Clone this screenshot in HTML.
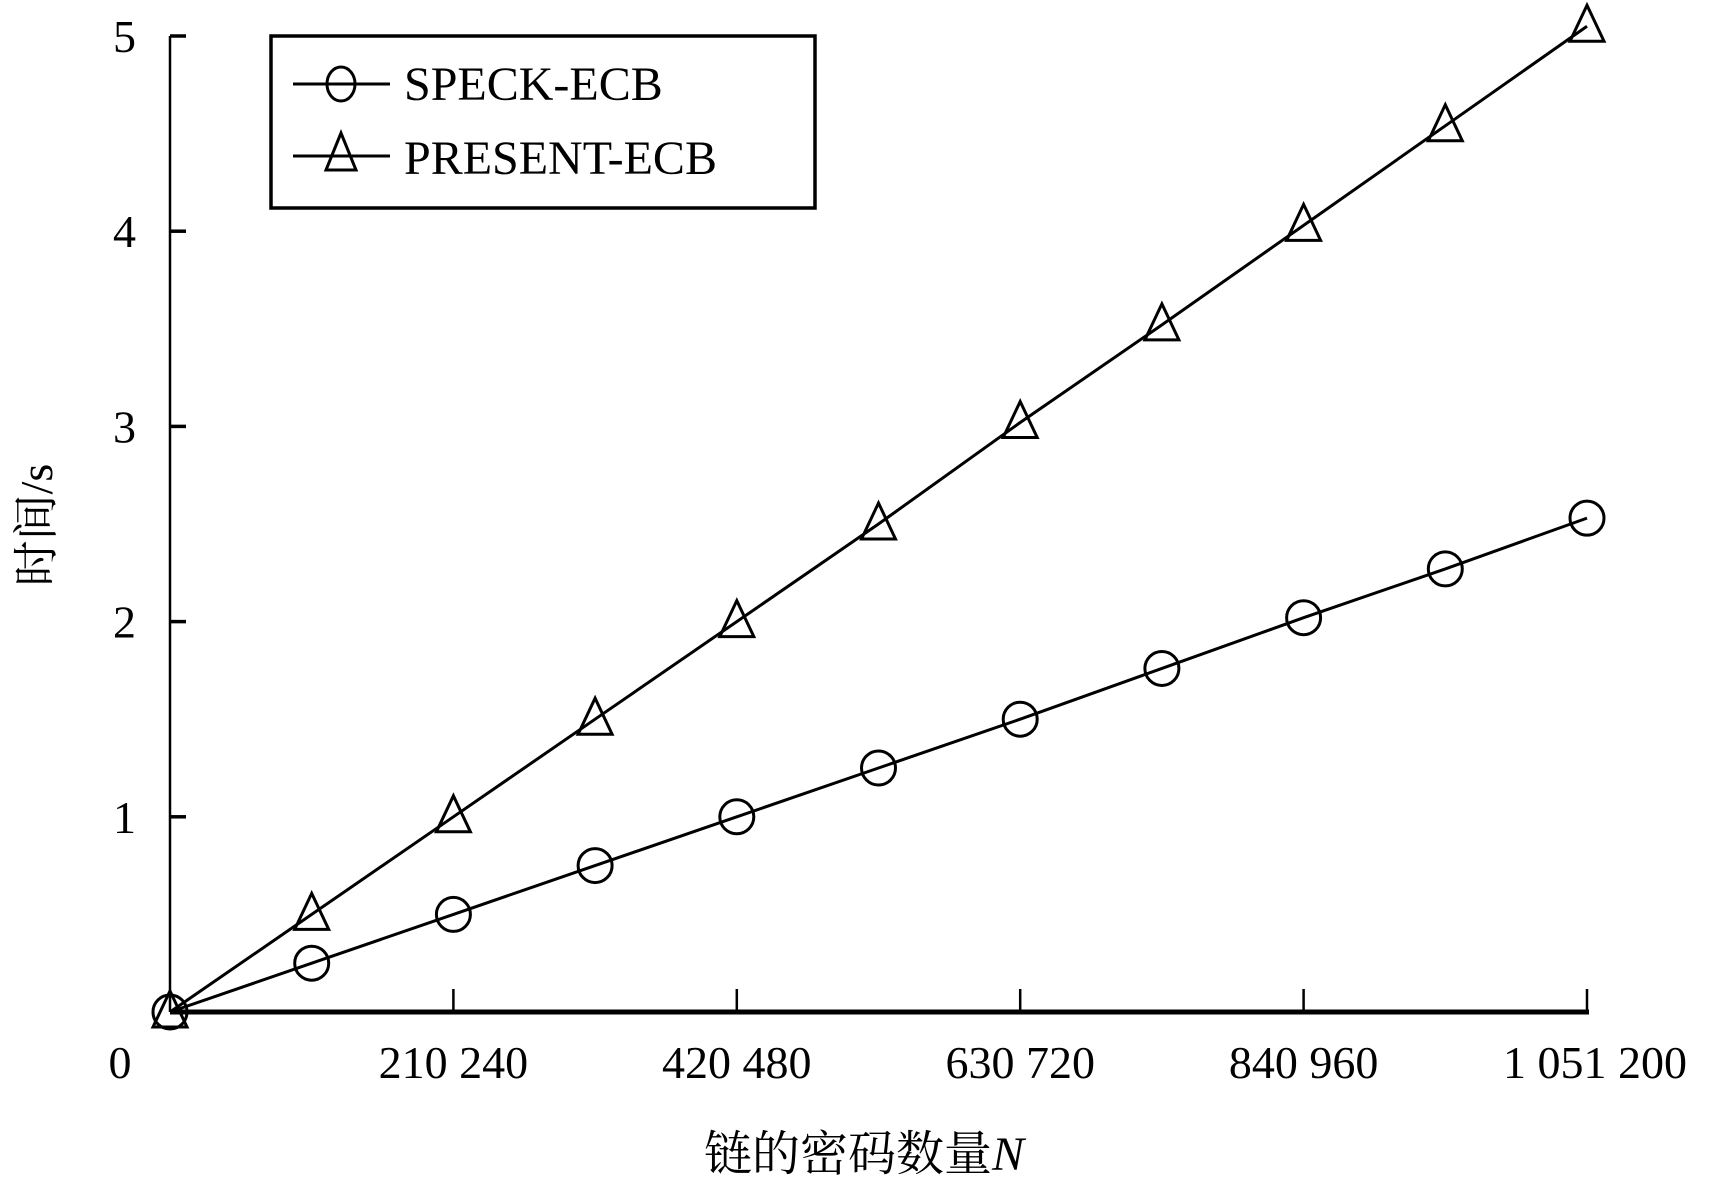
<!DOCTYPE html>
<html><head><meta charset="utf-8"><style>
html,body{margin:0;padding:0;background:#fff}
svg{display:block}
text{font-family:"Liberation Serif","Noto Serif CJK SC",serif;fill:#000}
</style></head><body>
<svg id="chart" width="1715" height="1185" viewBox="0 0 1715 1185">
<g id="axes"></g>
<g id="series"></g>
<g>
<rect x="271" y="36" width="544" height="172" fill="none" stroke="#000" stroke-width="3.5"/>
<g>
<line x1="293" y1="84" x2="390" y2="84" stroke="#000" stroke-width="3"/>
<ellipse cx="341" cy="84" rx="14" ry="17" fill="none" stroke="#000" stroke-width="3"/>
<text x="404" y="100" font-size="48">SPECK-ECB</text></g>
<g>
<line x1="293" y1="156" x2="390" y2="156" stroke="#000" stroke-width="3"/>
<path d="M341,133 L326,170 L356,170 Z" fill="none" stroke="#000" stroke-width="3"/>
<text x="404" y="174" font-size="48">PRESENT-ECB</text></g>
</g>
<text x="864" y="1170" font-size="48" text-anchor="middle">链的密码数量<tspan font-style="italic">N</tspan></text>
<text transform="translate(52,525) rotate(-90)" font-size="46" text-anchor="middle">时间/s</text>
</svg>
<script>
const categories=[0,105120,210240,315360,420480,525600,630720,735840,840960,946080,1051200];
const speck=[0,0.25,0.5,0.75,1.0,1.25,1.5,1.76,2.02,2.27,2.53];
const present=[0,0.5,1.0,1.5,2.0,2.5,3.02,3.52,4.03,4.54,5.05];
const yTicks=[1,2,3,4,5];
const xTicks=[210240,420480,630720,840960,1051200];
const xTickLabels=["210 240","420 480","630 720","840 960","1 051 200"];
const NS="http://www.w3.org/2000/svg";
const x0=170,x1=1587,y0=1012,y5=36;
const sx=v=>x0+(v/1051200)*(x1-x0);
const sy=v=>y0-(v/5)*(y0-y5);
function mk(tag,attrs,parent){const e=document.createElementNS(NS,tag);for(const k in attrs)e.setAttribute(k,attrs[k]);parent.appendChild(e);return e;}
const ax=document.getElementById('axes');
let l=mk('line',{x1:x0,y1:y0,x2:x0,y2:y5,stroke:'#000','stroke-width':2.5},ax);


l=mk('line',{x1:x0,y1:y0,x2:x1+2,y2:y0,stroke:'#000','stroke-width':5},ax);


yTicks.forEach(v=>{
 const t=mk('line',{x1:x0,y1:sy(v),x2:x0+16,y2:sy(v),stroke:'#000','stroke-width':3.5},ax);
 
 
 const tx=mk('text',{x:136,y:sy(v)+16,'font-size':46,'text-anchor':'end'},ax);
 tx.textContent=v;
 
 
});
const z=mk('text',{x:120,y:1078,'font-size':46,'text-anchor':'middle'},ax);
z.textContent='0';


xTicks.forEach((v,i)=>{
 const t=mk('line',{x1:sx(v),y1:y0,x2:sx(v),y2:y0-23,stroke:'#000','stroke-width':2.5},ax);
 
 
 const tx=mk('text',{x:sx(v)+(i==4?8:0),y:1078,'font-size':46,'text-anchor':'middle'},ax);
 tx.textContent=xTickLabels[i];
 
 
});
const sg=document.getElementById('series');
function drawSeries(vals,name,marker){
 const p=mk('polyline',{points:vals.map((v,i)=>sx(categories[i])+','+sy(v)).join(' '),fill:'none',stroke:'#000','stroke-width':3},sg);
 
 
 vals.forEach((v,i)=>{
  const cx=sx(categories[i]),cy=sy(v);let m;
  if(marker==='circle') m=mk('ellipse',{cx:cx,cy:cy,rx:17,ry:17,fill:'none',stroke:'#000','stroke-width':3},sg);
  else m=mk('path',{d:`M${cx},${cy-21} L${cx-17},${cy+15} L${cx+17},${cy+15} Z`,fill:'none',stroke:'#000','stroke-width':3},sg);
  
  
 });
}
drawSeries(present,'present-ecb','triangle');
drawSeries(speck,'speck-ecb','circle');
</script>
</body></html>
